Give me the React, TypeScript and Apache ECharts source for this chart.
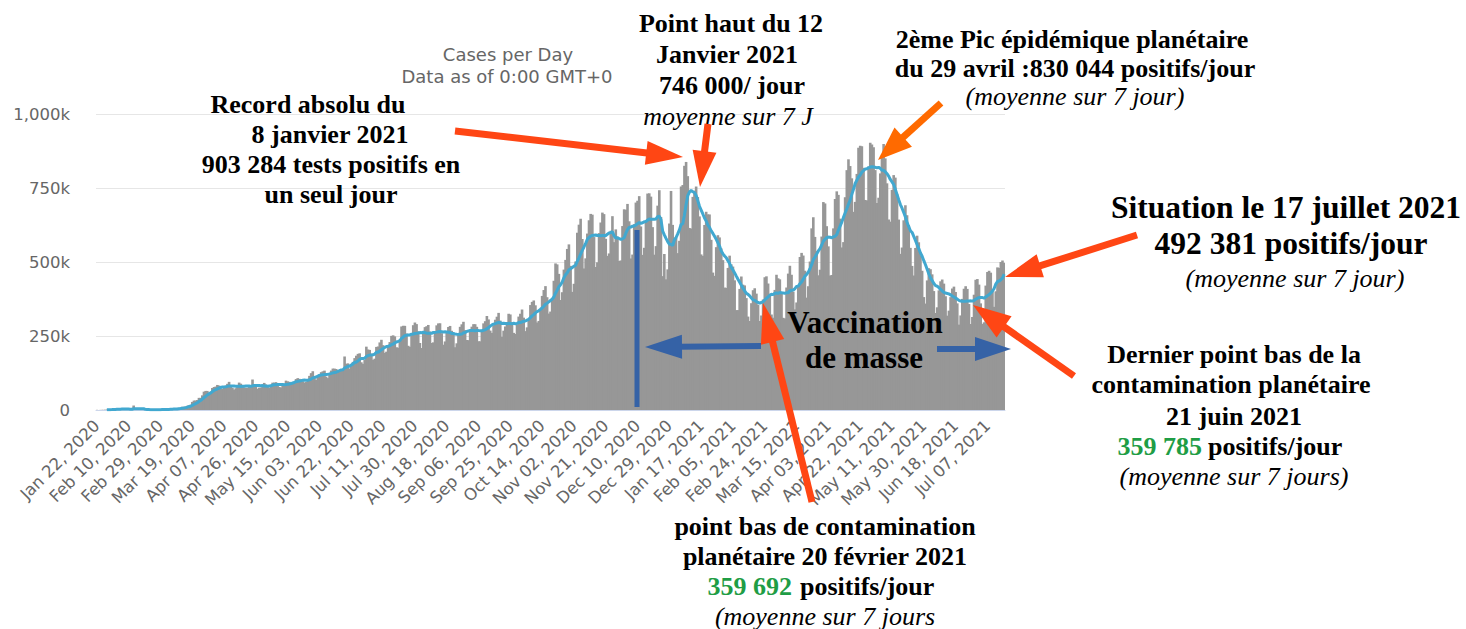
import { useEffect, useRef } from "react";
import * as echarts from "echarts";

// Daily new cases (thousands), one row per week starting Wed 22 Jan 2020
const START_DATE = "2020-01-22";
const DAILY_CASES_K: number[] = [
  0.6, 0.1, 0.3, 0.5, 0.7, 0.8, 1.5,
  1.7, 2.0, 2.1, 2.6, 2.8, 3.2, 3.9,
  3.7, 3.2, 3.4, 2.7, 3.0, 2.6, 2.0,
  2.0, 15.1, 5.1, 2.6, 2.1, 1.9, 1.8,
  0.5, 0.6, 1.0, 1.0, 0.7, 0.6, 0.9,
  1.1, 1.3, 1.4, 1.8, 1.9, 2.0, 2.4,
  2.3, 2.7, 3.9, 4.0, 3.8, 4.0, 4.6,
  7.3, 7.4, 10.8, 11.0, 11.4, 14.3, 16.0,
  17.7, 27.3, 31.8, 32.3, 33.8, 41.0, 41.0,
  49.5, 62.0, 64.5, 64.4, 58.6, 62.2, 74.4,
  77.6, 79.1, 84.6, 82.6, 72.3, 71.6, 77.3,
  82.4, 88.4, 95.1, 78.9, 75.0, 69.1, 73.6,
  80.1, 92.6, 88.9, 80.7, 76.6, 74.8, 75.2,
  78.0, 83.8, 103.0, 86.5, 79.0, 71.5, 75.6,
  75.8, 86.1, 91.5, 86.3, 77.5, 75.4, 80.3,
  92.4, 92.5, 94.0, 88.2, 78.1, 76.2, 83.6,
  86.5, 99.2, 96.8, 95.3, 87.3, 89.6, 96.1,
  104.5, 107.6, 105.3, 103.5, 97.1, 93.0, 94.5,
  104.6, 115.3, 124.5, 131.0, 108.2, 102.0, 114.5,
  121.3, 127.8, 130.6, 133.0, 112.7, 107.8, 121.0,
  133.2, 140.0, 139.8, 138.6, 130.0, 128.5, 138.0,
  138.5, 180.8, 156.2, 157.5, 140.0, 155.0, 162.7,
  175.3, 183.5, 189.6, 191.5, 161.2, 156.0, 168.8,
  214.0, 204.4, 203.0, 190.5, 169.5, 173.4, 213.1,
  214.6, 228.3, 237.2, 219.0, 193.1, 197.0, 218.2,
  229.5, 250.4, 252.2, 248.6, 212.0, 210.3, 236.0,
  282.2, 284.5, 284.3, 258.6, 217.0, 213.5, 252.7,
  286.5, 295.5, 290.2, 266.0, 226.3, 209.5, 262.8,
  280.0, 283.1, 287.3, 265.2, 226.5, 228.5, 265.0,
  286.0, 292.5, 293.0, 259.5, 220.5, 231.6, 262.8,
  280.5, 284.0, 267.6, 260.5, 212.0, 225.3, 258.5,
  281.0, 289.5, 298.0, 270.0, 236.5, 236.0, 267.5,
  281.5, 290.0, 289.9, 281.0, 232.4, 232.0, 267.5,
  292.7, 300.0, 317.6, 306.0, 268.3, 260.5, 286.0,
  305.0, 315.2, 328.1, 302.1, 247.0, 268.0, 282.2,
  297.4, 325.1, 322.8, 296.2, 260.6, 257.0, 289.0,
  315.6, 325.2, 339.5, 311.9, 266.5, 279.2, 307.8,
  354.6, 365.3, 370.1, 353.7, 295.6, 300.9, 341.0,
  385.4, 405.3, 418.5, 381.1, 325.8, 332.5, 372.2,
  436.6, 495.2, 491.9, 459.9, 371.7, 397.9, 474.3,
  507.1, 544.1, 559.5, 487.0, 399.1, 426.4, 501.7,
  598.9, 626.1, 646.1, 577.7, 478.1, 512.3, 596.1,
  641.0, 662.5, 660.0, 584.3, 483.2, 499.0, 597.6,
  633.4, 666.9, 661.8, 578.3, 520.7, 528.9, 605.3,
  654.8, 567.1, 610.2, 586.1, 503.6, 505.3, 621.4,
  678.0, 676.5, 696.2, 637.5, 511.9, 525.1, 627.9,
  700.8, 707.0, 722.5, 620.0, 524.0, 548.0, 636.8,
  731.2, 732.1, 720.9, 617.8, 524.7, 553.6, 690.4,
  742.5, 652.0, 452.3, 527.0, 441.5, 475.1, 630.0,
  740.0, 625.4, 582.5, 580.8, 530.0, 571.6, 755.0,
  760.0, 825.0, 838.0, 790.0, 615.0, 613.0, 720.0,
  741.0, 755.0, 719.5, 654.0, 525.6, 520.8, 625.0,
  669.7, 661.0, 660.6, 575.0, 464.2, 453.2, 550.1,
  590.5, 583.0, 545.8, 506.3, 413.6, 412.6, 480.0,
  521.4, 492.1, 484.6, 438.1, 337.5, 337.5, 409.1,
  451.0, 423.4, 420.9, 378.0, 315.6, 300.7, 360.8,
  404.7, 411.3, 393.2, 355.3, 300.6, 319.3, 373.4,
  448.5, 451.6, 427.3, 392.7, 322.6, 311.7, 405.7,
  456.9, 444.9, 441.4, 392.6, 311.4, 309.4, 413.8,
  460.8, 487.2, 456.9, 399.9, 339.9, 363.3, 422.0,
  517.0, 530.8, 521.8, 470.5, 379.6, 418.1, 501.6,
  613.7, 651.2, 584.8, 537.6, 455.0, 473.9, 585.9,
  702.5, 697.8, 621.0, 552.9, 454.3, 456.2, 613.6,
  712.9, 738.7, 726.8, 646.4, 549.1, 567.2, 718.8,
  810.3, 846.9, 824.2, 782.7, 669.4, 703.1, 797.6,
  886.1, 893.0, 891.3, 818.1, 709.6, 708.2, 822.8,
  903.0, 896.9, 887.8, 810.5, 699.3, 717.2, 799.3,
  857.5, 898.8, 850.1, 765.8, 643.6, 636.2, 743.5,
  793.6, 785.1, 729.7, 643.3, 527.5, 548.9, 640.8,
  691.7, 658.0, 625.1, 547.8, 486.8, 454.4, 547.3,
  588.9, 566.6, 521.5, 470.4, 381.5, 359.5, 437.8,
  479.0, 475.7, 458.3, 401.8, 327.7, 346.9, 404.2,
  434.8, 440.8, 426.9, 384.3, 318.7, 335.6, 381.3,
  410.4, 416.8, 398.7, 360.3, 288.4, 319.5, 375.4,
  409.6, 418.2, 409.1, 358.2, 290.6, 314.3, 389.5,
  440.0, 442.4, 423.6, 360.2, 291.0, 296.1, 420.3,
  466.2, 470.3, 464.0, 405.9, 348.6, 401.0, 481.8,
  480.0, 500.0, 505.0, 497.0,
];

const AVG_WINDOW = 7;
const LABEL_STEP = 19;
const Y_MAX = 1000;
const Y_STEP = 250;
const Y_TICK_LABELS: Record<number, string> = { 0: "0", 250: "250k", 500: "500k", 750: "750k", 1000: "1,000k" };
const MONTHS = ["Jan", "Feb", "Mar", "Apr", "May", "Jun", "Jul", "Aug", "Sep", "Oct", "Nov", "Dec"];

function buildCategories(n: number): string[] {
  const start = new Date(START_DATE + "T00:00:00Z");
  const out: string[] = [];
  for (let i = 0; i < n; i++) {
    const d = new Date(start.getTime() + i * 86400000);
    const dd = String(d.getUTCDate()).padStart(2, "0");
    out.push(`${MONTHS[d.getUTCMonth()]} ${dd}, ${d.getUTCFullYear()}`);
  }
  return out;
}

function movingAverage(v: number[], w: number): (number | null)[] {
  return v.map((_, i) => {
    if (i < w - 1) return null;
    let s = 0;
    for (let j = i - w + 1; j <= i; j++) s += v[j];
    return +(s / w).toFixed(1);
  });
}

const SERIF = '"Liberation Serif", "Times New Roman", serif';
const SANS = '"DejaVu Sans", Verdana, sans-serif';
const RED = "#ff4614";
const ORANGE = "#ff6a00";
const BLUE = "#3562a6";
const GREEN = "#1f9d45";

function txt(text: string, x: number, y: number, font: string, fill = "#000", align = "center") {
  return {
    type: "text",
    x,
    y,
    z: 100,
    style: { text, font, fill, align, textAlign: align, verticalAlign: "middle", textVerticalAlign: "middle" },
  };
}

function arrow(x1: number, y1: number, x2: number, y2: number, color: string, w: number, hl: number, hw: number) {
  const dx = x2 - x1, dy = y2 - y1;
  const len = Math.hypot(dx, dy);
  const ux = dx / len, uy = dy / len;
  const bx = x2 - ux * hl, by = y2 - uy * hl;
  const px = -uy, py = ux;
  return [
    { type: "line", z: 100, shape: { x1, y1, x2: bx + ux * 3, y2: by + uy * 3 }, style: { stroke: color, lineWidth: w } },
    {
      type: "polygon",
      z: 100,
      shape: { points: [[x2, y2], [bx + px * hw, by + py * hw], [bx - px * hw, by - py * hw]] },
      style: { fill: color },
    },
  ];
}

export default function App() {
  const ref = useRef<HTMLDivElement>(null);
  useEffect(() => {
    if (!ref.current) return;
    const chart = echarts.init(ref.current, undefined, { renderer: "svg" });
    const cats = buildCategories(DAILY_CASES_K.length);
    const avg = movingAverage(DAILY_CASES_K, AVG_WINDOW);
    const B26 = `bold 26px ${SERIF}`;
    const B31 = `bold 31px ${SERIF}`;
    const B32 = `bold 31.5px ${SERIF}`;
    const I26 = `italic 26px ${SERIF}`;
    const graphics: any[] = [
      txt("Cases per Day", 508, 54, `18px ${SANS}`, "#666"),
      txt("Data as of 0:00 GMT+0", 507, 76, `18px ${SANS}`, "#666"),
      // Record
      txt("Record absolu du", 308, 104, B26),
      txt("8 janvier 2021", 330, 134, B26),
      txt("903 284 tests positifs en", 331, 164, B26),
      txt("un seul jour", 331, 194, B26),
      // Point haut
      txt("Point haut du 12", 731, 23, B26),
      txt("Janvier 2021", 727, 54, B26),
      txt("746 000/ jour", 732, 85, B26),
      txt("moyenne sur 7 J", 728, 116, I26),
      // 2eme pic
      txt("2ème Pic épidémique planétaire", 1072, 39, B26),
      txt("du 29 avril :830 044 positifs/jour", 1075, 68, B26),
      txt("(moyenne sur 7 jour)", 1075, 96, I26),
      // Situation
      txt("Situation le 17 juillet 2021", 1286, 207, B32),
      txt("492 381 positifs/jour", 1291, 243, B32),
      txt("(moyenne sur 7 jour)", 1295, 278, I26),
      // Dernier point bas
      txt("Dernier point bas de la", 1234, 354, B26),
      txt("contamination planétaire", 1231, 384, B26),
      txt("21 juin 2021", 1234, 416, B26),
      txt("359 785", 1202, 446, B26, GREEN, "right"),
      txt("positifs/jour", 1208, 446, B26, "#000", "left"),
      txt("(moyenne sur 7 jours)", 1234, 476, I26),
      // Point bas
      txt("point bas de contamination", 825, 526, B26),
      txt("planétaire 20 février 2021", 825, 556, B26),
      txt("359 692", 792, 586, B26, GREEN, "right"),
      txt("positifs/jour", 800, 586, B26, "#000", "left"),
      txt("(moyenne sur 7 jours", 825, 616, I26),
      // Vaccination
      txt("Vaccination", 865, 322, B31),
      txt("de masse", 864, 357, B31),
      // arrows
      ...arrow(455, 131, 683, 157, RED, 7, 37, 12),
      ...arrow(708, 124, 700, 187, RED, 7, 36, 12),
      ...arrow(941, 103, 878, 160, ORANGE, 7, 34, 13),
      ...arrow(1137, 235, 1005, 277, RED, 7, 37, 12),
      ...arrow(1074, 376, 973, 305, RED, 7, 38, 13),
      ...arrow(812, 502, 763, 303, RED, 7, 40, 12),
      { type: "line", z: 100, shape: { x1: 637, y1: 230, x2: 637, y2: 407 }, style: { stroke: BLUE, lineWidth: 5 } },
      ...arrow(761, 346, 645, 347, BLUE, 6, 37, 12),
      ...arrow(937, 349, 1011, 349, BLUE, 6, 36, 12),
    ];
    chart.setOption({
      animation: false,
      grid: { left: 96, right: 461, top: 114, bottom: 219 },
      xAxis: {
        type: "category",
        data: cats,
        axisLine: { lineStyle: { color: "#ccd6eb" } },
        axisTick: { show: false },
        axisLabel: {
          interval: LABEL_STEP - 1,
          rotate: 45,
          color: "#666",
          fontSize: 16.5,
          fontFamily: SANS,
          margin: 13,
        },
      },
      yAxis: {
        type: "value",
        min: 0,
        max: Y_MAX,
        interval: Y_STEP,
        axisLine: { show: false },
        axisTick: { show: false },
        axisLabel: {
          color: "#666",
          fontSize: 16.5,
          fontFamily: SANS,
          margin: 26,
          formatter: (v: number) => Y_TICK_LABELS[v] ?? String(v),
        },
        splitLine: { lineStyle: { color: "#e6e6e6" } },
      },
      series: [
        {
          type: "bar",
          data: DAILY_CASES_K,
          itemStyle: { color: "#979797" },
          barWidth: 2.6,
        },
        {
          type: "line",
          data: avg,
          symbol: "none",
          lineStyle: { color: "#41a8d0", width: 3 },
          z: 5,
        },
      ],
      graphic: graphics,
    });
    return () => chart.dispose();
  }, []);
  return <div ref={ref} style={{ position: "fixed", left: 0, top: 0, width: 1466, height: 629, background: "#fff" }} />;
}
